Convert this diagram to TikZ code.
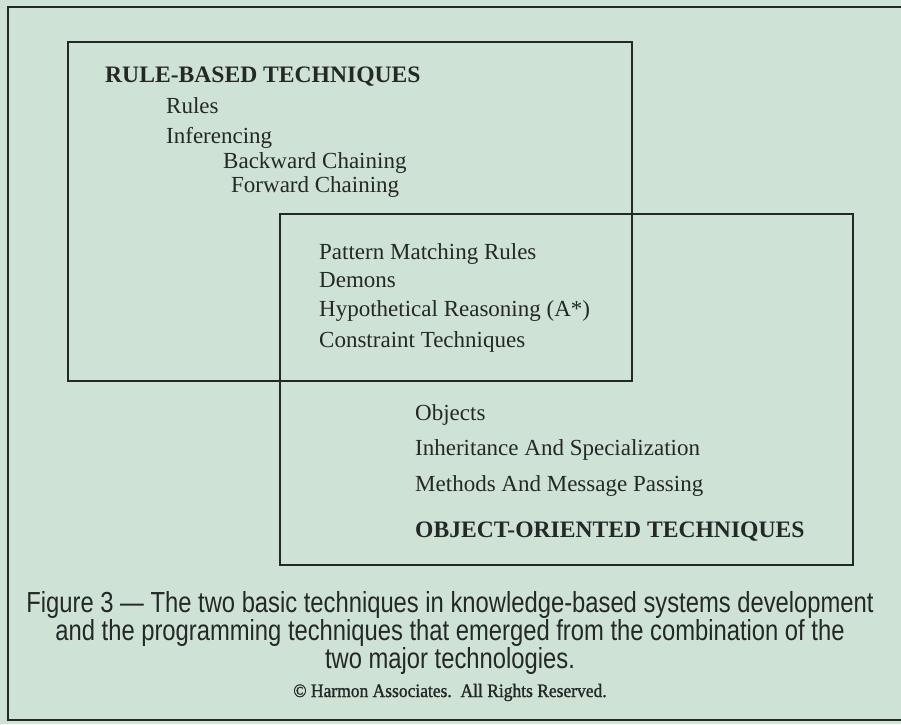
\documentclass[tikz,border=0pt]{standalone}
\usepackage{fontspec}
\setmainfont{Liberation Serif}
\newfontfamily\capfont[FakeStretch=0.82]{Liberation Sans}
\newfontfamily\creditfont[FakeBold=1.2,FakeStretch=0.92]{Liberation Serif}
\definecolor{paper}{RGB}{206,226,214}
\definecolor{ink}{RGB}{36,40,38}
\tikzset{
  frame/.style={draw=ink, line width=2pt},
  item/.style={anchor=base west, inner sep=0pt, text=ink, font=\fontsize{23}{23}\selectfont},
  heading/.style={item, font=\fontsize{23.6}{23.6}\selectfont\bfseries},
  caption/.style={anchor=base, inner sep=0pt, text=ink, font=\capfont\fontsize{29}{29}\selectfont},
  credit/.style={anchor=base, inner sep=0pt, text=ink, font=\creditfont\fontsize{19}{19}\selectfont}
}
\begin{document}
\begin{tikzpicture}[x=1pt,y=-1pt]
  \useasboundingbox (0,0) rectangle (901,724);
  \fill[paper] (0,0) rectangle (901,724);

  % outer frame, open on the right
  \draw[frame, line width=2.4pt] (905,7) -- (8,7) -- (8,720) -- (905,720);

  % the two overlapping technique boxes
  \draw[frame] (68,42) rectangle (632,381);
  \draw[frame] (280,214) rectangle (853,565);

  % rule-based techniques
  \node[heading] (rb) at (105,82) {RULE-BASED TECHNIQUES};
  \node[item] (rules) at (166,113) {Rules};
  \node[item] (inf) at (166,143) {Inferencing};
  \node[item] (bc) at (223,168) {Backward Chaining};
  \node[item] (fc) at (231,192) {Forward Chaining};

  % techniques in the overlap
  \node[item] (pm) at (319,259) {Pattern Matching Rules};
  \node[item] (dem) at (319,287) {Demons};
  \node[item] (hyp) at (319,316) {Hypothetical Reasoning (A*)};
  \node[item] (con) at (319,347) {Constraint Techniques};

  % object-oriented techniques
  \node[item] (obj) at (415,420) {Objects};
  \node[item] (inh) at (415,455) {Inheritance And Specialization};
  \node[item] (met) at (415,491) {Methods And Message Passing};
  \node[heading] (oo) at (415,537) {OBJECT-ORIENTED TECHNIQUES};

  % caption
  \node[caption] (cap1) at (450,612) {Figure 3 — The two basic techniques in knowledge-based systems development};
  \node[caption] (cap2) at (450,640) {and the programming techniques that emerged from the combination of the};
  \node[caption] (cap3) at (450,668) {two major technologies.};
  \node[credit] (copy) at (450,697) {\textcopyright\ Harmon Associates.\ \ All Rights Reserved.};
\end{tikzpicture}
\end{document}
